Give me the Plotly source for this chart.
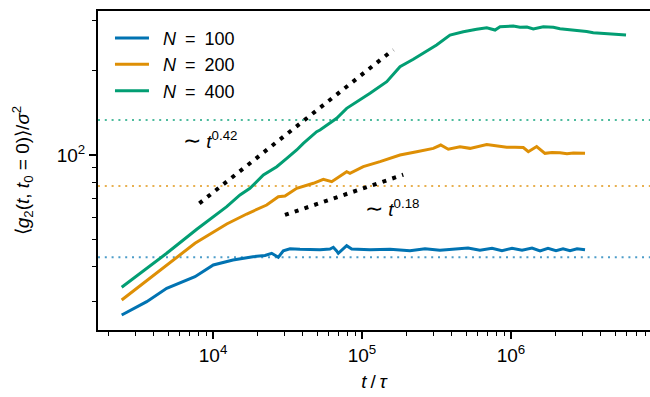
import numpy as np
import plotly.graph_objects as go

# Mean-square g2 growth against lag time for three system sizes
t_100 = [2438, 3589, 4887, 7568, 10046, 13614, 18540, 22330, 24770, 27420,
         29630, 32870, 38370, 52240, 60950, 64170, 67580, 69300, 78900, 85270,
         113200, 154200, 209900, 264800, 333600, 420600, 514300, 619100, 745500, 870000,
         1016000, 1186000, 1384000, 1567000, 1772000, 2005000, 2235000, 2490000, 2776000, 3140000]
g_100 = [26.95, 30.06, 33.54, 36.89, 40.6, 42.3, 43.46, 43.88, 44.69, 43.25,
         45.64, 46.4, 46.2, 46.03, 46.3, 46.95, 45.54, 44.69, 47.57, 46.3,
         46.03, 46.2, 45.64, 46.4, 45.8, 46.3, 46.67, 45.8, 46.56, 45.64,
         46.56, 45.8, 46.67, 45.54, 46.56, 45.64, 46.4, 45.64, 46.4, 46.03]

t_200 = [2438, 3589, 4887, 7568, 12360, 16830, 22910, 27420, 30410, 36450,
         47140, 54990, 62620, 73090, 78900, 83000, 102000, 132100, 179900, 232800,
         301100, 337600, 379400, 454600, 530900, 687500, 801500, 935500, 1064000, 1210000,
         1307000, 1487000, 1690000, 1884000, 2132000, 2376000, 2620000, 2903000, 3140000]
g_200 = [30.48, 35.7, 40.6, 48.5, 56.8, 61.66, 66.38, 71.06, 71.47, 76.12,
         79.3, 81.94, 80.35, 84.88, 87.2, 86.07, 90.88, 94.67, 100.0, 102.7,
         105.6, 108.5, 104.8, 107.0, 105.6, 109.0, 107.6, 106.5, 106.5, 106.3,
         102.7, 107.2, 101.4, 102.1, 101.9, 101.0, 101.6, 101.2, 101.4]

t_400 = [2438, 3589, 4887, 7782, 12360, 15170, 17700, 21780, 26780, 31260,
         36450, 40370, 49640, 52240, 67580, 78900, 97040, 113200, 146600, 179900,
         221000, 257800, 316600, 389600, 478700, 588300, 687500, 781500, 844300, 1036000,
         1149000, 1280000, 1411000, 1648000, 1924000, 2132000, 2365000, 2608000, 2903000, 3218000,
         3566000, 3953000, 4385000, 4838000, 5392000, 5916000]
g_400 = [33.82, 39.53, 44.69, 54.43, 65.46, 72.06, 76.12, 84.88, 90.88, 97.34,
         104.2, 110.0, 121.0, 122.7, 135.1, 146.6, 156.9, 165.9, 182.4, 206.2,
         219.1, 230.1, 246.4, 267.3, 274.7, 280.1, 283.8, 278.5, 286.2, 287.8,
         284.7, 285.5, 280.8, 286.2, 284.7, 281.3, 280.1, 277.8, 276.3, 275.2,
         272.4, 271.4, 269.6, 269.0, 267.3, 267.3]

sizes = ["100", "200", "400"]
colors = ["#0173B2", "#DE8F05", "#029E73"]
faint = ["rgba(1,115,178,0.7)", "rgba(222,143,5,0.7)", "rgba(2,158,115,0.7)"]

# saturation levels drawn as dotted horizontal references
plateau = [43.25, 77.6, 133.3]

# power-law guides: start time, start value, end time, exponent
guide_t0 = [8096, 30400]
guide_g0 = [67.3, 61.2]
guide_t1 = [162200, 189200]
guide_exp = [0.42, 0.18]

x_range = [3.228, 6.933]
y_range = [1.3772, 2.5125]

FONT = "Liberation Sans, Arial, sans-serif"
TILDE = '<span style="font-size:22px">\u223c</span>'

fig = go.Figure()

x_lo, x_hi = 10 ** x_range[0], 10 ** x_range[1]
for lvl, c in zip(plateau, faint):
    fig.add_trace(go.Scatter(x=[x_lo, x_hi], y=[lvl, lvl], mode="lines",
                             line=dict(color=c, width=2, dash="2px,4.8px"),
                             showlegend=False, hoverinfo="skip"))

for t, g, n, c in zip([t_100, t_200, t_400], [g_100, g_200, g_400], sizes, colors):
    fig.add_trace(go.Scatter(x=t, y=g, mode="lines", line=dict(color=c, width=3),
                             name=f"\u2002<i>N</i>\u2002=\u2002{n}"))

for t0, g0, t1, p in zip(guide_t0, guide_g0, guide_t1, guide_exp):
    tt = np.array([t0, t1], dtype=float)
    gg = g0 * (tt / t0) ** p
    fig.add_trace(go.Scatter(x=tt, y=gg, mode="lines",
                             line=dict(color="black", width=4, dash="4px,6.3px"),
                             showlegend=False, hoverinfo="skip"))

fig.add_annotation(x=3.983, y=2.053, xref="x", yref="y", showarrow=False,
                   text=f"{TILDE} <i>t</i><sup>0.42</sup>",
                   font=dict(size=19, color="black", family=FONT))
fig.add_annotation(x=5.201, y=1.811, xref="x", yref="y", showarrow=False,
                   text=f"{TILDE} <i>t</i><sup>0.18</sup>",
                   font=dict(size=19, color="black", family=FONT))

x_major = [1e4, 1e5, 1e6]
x_minor = [m * 10 ** d for d in range(3, 7) for m in range(2, 10)]
y_major = [100]
y_minor = [30, 40, 50, 60, 70, 80, 90, 200, 300]

axis_common = dict(type="log", showgrid=False, zeroline=False, showline=True,
                   linecolor="black", linewidth=2, ticks="outside", ticklen=7,
                   tickwidth=1.6, tickcolor="black",
                   tickfont=dict(size=19, color="black", family=FONT))

fig.update_xaxes(**axis_common, range=x_range, mirror=True,
                 tickvals=x_major, ticktext=["10<sup>4</sup>", "10<sup>5</sup>", "10<sup>6</sup>"],
                 minor=dict(tickvals=x_minor, ticks="outside", ticklen=4, tickwidth=1.3, tickcolor="black"),
                 title=dict(text="<i>t</i>\u2009/\u2009<i>\u03c4</i>", standoff=10,
                            font=dict(size=19, color="black", family=FONT)))
fig.update_yaxes(**axis_common, range=y_range,
                 tickvals=y_major, ticktext=["10<sup>2</sup>"],
                 minor=dict(tickvals=y_minor, ticks="outside", ticklen=4, tickwidth=1.3, tickcolor="black"),
                 title=dict(text="\u27e8<i>g</i><sub>2</sub>(<i>t</i>, <i>t</i><sub>0</sub> = 0)\u27e9/<i>\u03c3</i><sup>2</sup>",
                            standoff=22, font=dict(size=19, color="black", family=FONT)))

fig.update_layout(
    width=650, height=397,
    margin=dict(l=98, r=0, t=11, b=67),
    plot_bgcolor="white", paper_bgcolor="white",
    font=dict(family=FONT, size=18, color="black"),
    legend=dict(x=0.0217, y=0.9725, xanchor="left", yanchor="top", itemwidth=34,
                bgcolor="rgba(0,0,0,0)", font=dict(size=18, color="black", family=FONT),
                tracegroupgap=0),
)

fig.write_html("out.html")
